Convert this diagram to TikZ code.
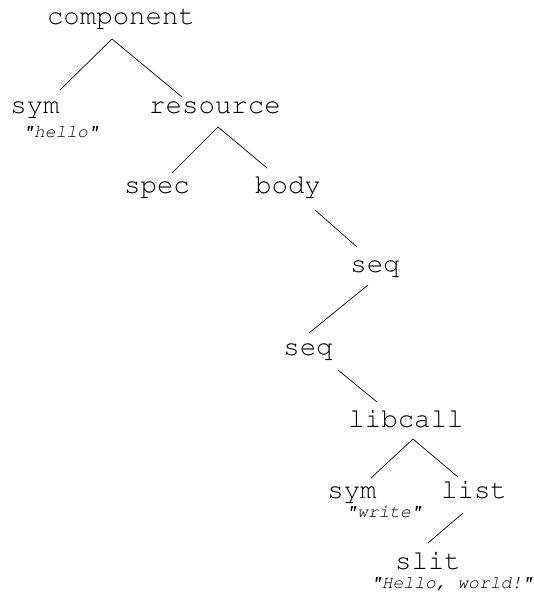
\documentclass[tikz,border=0pt]{standalone}
\usepackage[T1]{fontenc}
\usepackage{courier}
\begin{document}
\begin{tikzpicture}[x=1pt,y=-1pt,
  term/.style={font=\ttfamily\fontsize{27.4}{30}\selectfont, anchor=base, inner sep=0pt},
  val/.style={font=\ttfamily\itshape\fontsize{18}{20}\selectfont, anchor=base, inner sep=0pt},
  branch/.style={line width=0.7pt, black}]
\useasboundingbox (0,0) rectangle (534,594);

% tree nodes
\node[term] (component) at (121,25)  {component};
\node[term] (sym1)      at (35,113)  {sym};
\node[val]  (hello)     at (61,137)  {"hello"};
\node[term] (resource)  at (215,113) {resource};
\node[term] (spec)      at (157,193) {spec};
\node[term] (body)      at (288,193) {body};
\node[term] (seqA)      at (375,272) {seq};
\node[term] (seqB)      at (308,355) {seq};
\node[term] (libcall)   at (406,427) {libcall};
\node[term] (sym2)      at (352,498) {sym};
\node[val]  (write)     at (384,517) {"write"};
\node[term] (list)      at (474,498) {list};
\node[term] (slit)      at (428,569) {slit};
\node[val]  (hw)        at (452,588) {"Hello, world!"};

% branches
\draw[branch] ([shift={(-9,14)}]component.base) -- ([shift={(25,-23)}]sym1.base);
\draw[branch] ([shift={(-9,14)}]component.base) -- ([shift={(-33,-16)}]resource.base);
\draw[branch] ([shift={(3,14)}]resource.base) -- ([shift={(15,-20)}]spec.base);
\draw[branch] ([shift={(3,14)}]resource.base) -- ([shift={(-21,-25)}]body.base);
\draw[branch] ([shift={(27,17)}]body.base) -- ([shift={(-18,-25)}]seqA.base);
\draw[branch] ([shift={(-7,13)}]seqA.base) -- ([shift={(1,-22)}]seqB.base);
\draw[branch] ([shift={(30,15)}]seqB.base) -- ([shift={(-29,-25)}]libcall.base);
\draw[branch] ([shift={(7,12)}]libcall.base) -- ([shift={(19,-20)}]sym2.base);
\draw[branch] ([shift={(7,12)}]libcall.base) -- ([shift={(-16,-21)}]list.base);
\draw[branch] ([shift={(-11,15)}]list.base) -- ([shift={(0,-26)}]slit.base);
\end{tikzpicture}
\end{document}
